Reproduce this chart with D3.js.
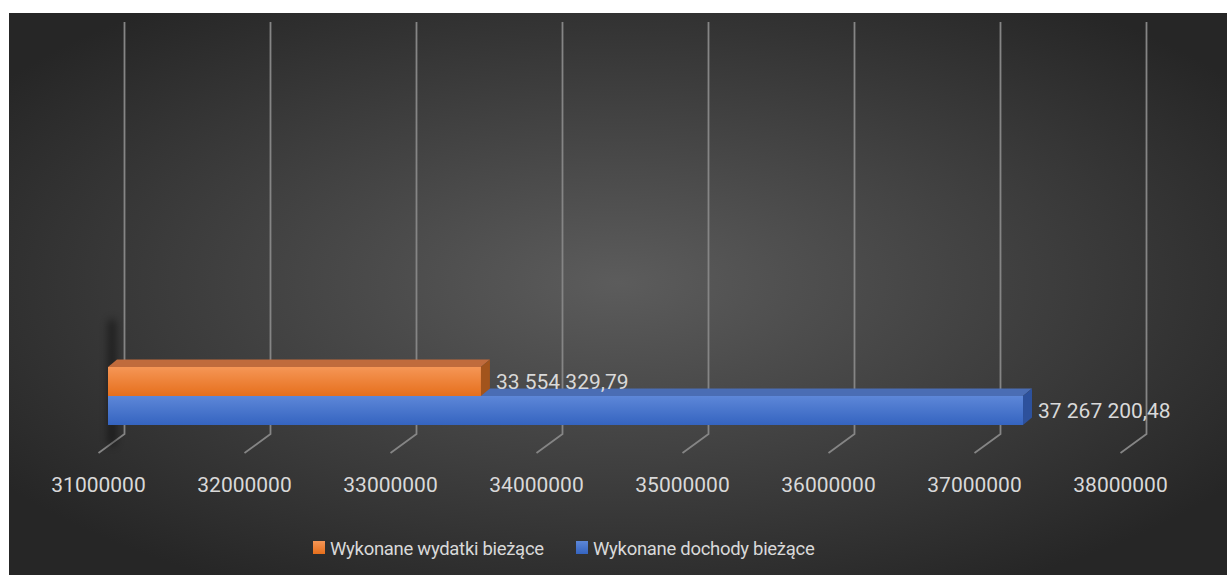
<!DOCTYPE html>
<html>
<head>
<meta charset="utf-8">
<script src="https://cdn.jsdelivr.net/npm/d3@7"></script>
<style>
  body { margin: 0; background: #ffffff; }
  svg { display: block; }
  text { font-family: Roboto, "Open Sans", sans-serif; fill: #d9d9d9; }
</style>
</head>
<body>
<svg width="1227" height="575"></svg>
<script>
// chart data
var series = ["Wykonane wydatki bieżące", "Wykonane dochody bieżące"];
var values = [33554329.79, 37267200.48];
var tickValues = [31000000, 32000000, 33000000, 34000000, 35000000, 36000000, 37000000, 38000000];
var seriesColors = ["orange", "blue"];

var svg = d3.select("svg"),
    width = +svg.attr("width"),
    height = +svg.attr("height");

var pl = d3.formatLocale({ decimal: ",", thousands: " ", grouping: [3], currency: ["", ""] });
var fmtValue = pl.format(",.2f");

// colour sets for the 3d faces
var palette = {
    orange: { top: "#f59656", bottom: "#e66f1c", roof: "#c06b3c", side: "#a2541c" },
    blue: { top: "#5d87d8", bottom: "#3564c0", roof: "#4a6db4", side: "#2d519c" }
};

var defs = svg.append("defs");

var bg = defs.append("radialGradient").attr("id", "bg")
    .attr("cx", "50%").attr("cy", "48%").attr("r", "62%");
bg.append("stop").attr("offset", "0%").attr("stop-color", "#5c5c5c");
bg.append("stop").attr("offset", "100%").attr("stop-color", "#262626");

Object.keys(palette).forEach(function(k) {
    var g = defs.append("linearGradient").attr("id", "front-" + k)
        .attr("x1", 0).attr("y1", 0).attr("x2", 0).attr("y2", 1);
    g.append("stop").attr("offset", "0%").attr("stop-color", palette[k].top);
    g.append("stop").attr("offset", "100%").attr("stop-color", palette[k].bottom);
});

defs.append("filter").attr("id", "blur")
    .attr("x", "-300%").attr("y", "-50%").attr("width", "700%").attr("height", "200%")
    .append("feGaussianBlur").attr("stdDeviation", 4);

// chart area background
svg.append("rect")
    .attr("x", 9).attr("y", 13)
    .attr("width", width - 9).attr("height", height - 13)
    .attr("fill", "url(#bg)");

var x = d3.scaleLinear().domain([31000000, 38000000]).range([108, 1130]);
var y = d3.scaleBand().domain(series).range([367, 425]);

var backShift = 16.5,   // back wall offset from bar front plane
    floorDx = -26, floorDy = 19,
    gridTop = 22, gridBottom = 434,
    depth = { dx: 9, dy: -7.5 };

// gridlines: wall + floor
var grid = svg.append("g").attr("class", "grid");
grid.selectAll("path")
    .data(tickValues)
    .enter().append("path")
    .attr("d", function(d) {
        var xb = x(d) + backShift;
        return "M" + xb + "," + gridTop + "V" + gridBottom + "l" + floorDx + "," + floorDy;
    })
    .attr("fill", "none")
    .attr("stroke", "#858585")
    .attr("stroke-width", 1.8);

// soft shadow at the left wall
svg.append("rect")
    .attr("x", 109).attr("y", 320)
    .attr("width", 6).attr("height", 125)
    .attr("fill", "#000")
    .attr("opacity", 0.6)
    .attr("filter", "url(#blur)");

// tick labels along the front of the floor
svg.append("g").selectAll("text")
    .data(tickValues)
    .enter().append("text")
    .attr("x", function(d) { return x(d) + backShift + floorDx; })
    .attr("y", 492)
    .attr("text-anchor", "middle")
    .attr("font-size", 21)
    .text(d3.format("d"));

// bars, blue drawn first so the orange sits over its top face
var order = [1, 0];
var bars = svg.append("g").attr("class", "bars");
order.forEach(function(i) {
    var c = palette[seriesColors[i]],
        x0 = x(31000000), x1 = x(values[i]),
        y0 = y(series[i]), h = y.bandwidth();
    var g = bars.append("g");
    g.append("path")
        .attr("d", "M" + x0 + "," + y0 + "l" + depth.dx + "," + depth.dy +
            "H" + (x1 + depth.dx) + "l" + (-depth.dx) + "," + (-depth.dy) + "Z")
        .attr("fill", c.roof);
    g.append("path")
        .attr("d", "M" + x1 + "," + y0 + "l" + depth.dx + "," + depth.dy +
            "v" + h + "l" + (-depth.dx) + "," + (-depth.dy) + "Z")
        .attr("fill", c.side);
    g.append("rect")
        .attr("x", x0).attr("y", y0)
        .attr("width", x1 - x0).attr("height", h)
        .attr("fill", "url(#front-" + seriesColors[i] + ")");
});

// value labels
svg.append("g").selectAll("text")
    .data(values)
    .enter().append("text")
    .attr("x", function(d) { return x(d) + depth.dx + 6; })
    .attr("y", function(d, i) { return y(series[i]) + y.bandwidth() / 2; })
    .attr("dy", "0.36em")
    .attr("font-size", 21)
    .text(function(d) { return fmtValue(d); });

// legend
var legendX = [313, 576];
var legend = svg.append("g").attr("class", "legend");
series.forEach(function(s, i) {
    legend.append("rect")
        .attr("x", legendX[i]).attr("y", 541)
        .attr("width", 12).attr("height", 13)
        .attr("fill", "url(#front-" + seriesColors[i] + ")");
    legend.append("text")
        .attr("x", legendX[i] + 17).attr("y", 555)
        .attr("font-size", 18.5)
        .attr("letter-spacing", -0.3)
        .text(s);
});
</script>
</body>
</html>
